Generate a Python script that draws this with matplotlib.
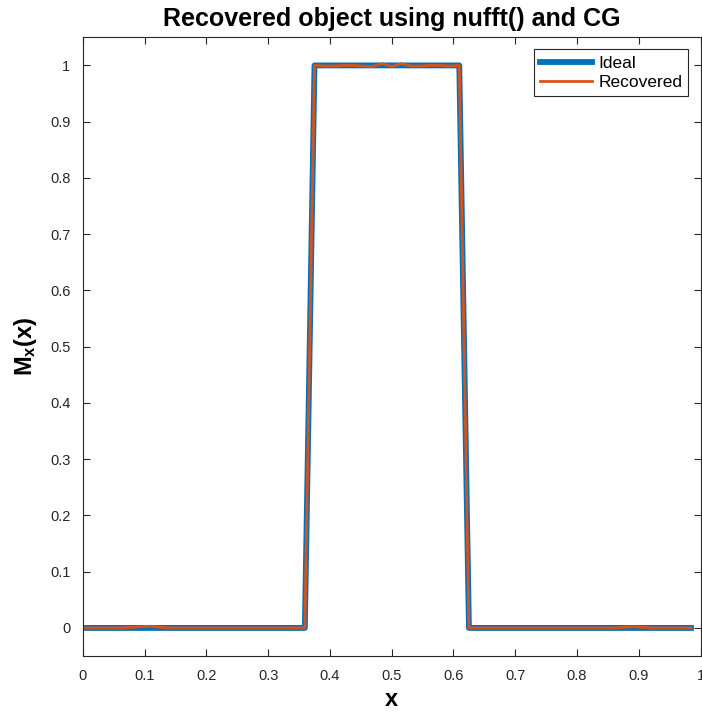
import numpy as np
import matplotlib
matplotlib.use("Agg")
import matplotlib.pyplot as plt

plt.rcParams['font.family'] = ['Liberation Sans', 'DejaVu Sans']
plt.rcParams['mathtext.fontset'] = 'custom'
plt.rcParams['mathtext.bf'] = 'Liberation Sans:bold'
plt.rcParams['mathtext.rm'] = 'Liberation Sans'

# Sample grid and object profiles
x = np.arange(64) / 64.0
ideal = [0]*24 + [1]*16 + [0]*24
recovered = [
    0.000, 0.000, 0.000, 0.000, 0.000, 0.001, 0.002, 0.003,
    0.001, 0.000, 0.000, 0.000, 0.000, 0.000, 0.000, 0.000,
    0.000, 0.000, 0.000, 0.000, 0.000, 0.000, 0.000, 0.000,
    1.000, 0.999, 0.999, 1.000, 1.000, 0.999, 0.998, 1.003,
    0.998, 1.003, 0.999, 0.999, 1.000, 1.000, 0.999, 1.000,
    0.000, 0.000, 0.000, 0.000, 0.000, 0.000, 0.000, 0.000,
    0.000, 0.000, 0.000, 0.000, 0.000, 0.000, 0.000, 0.000,
    0.001, 0.002, 0.001, 0.000, 0.000, 0.000, 0.000, 0.000,
]

fig = plt.figure(figsize=(7.02, 7.17), dpi=100)
ax = fig.add_axes([0.118, 0.085, 0.880, 0.863])

ax.plot(x, ideal, color='#0072BD', lw=4.2, label='Ideal')
ax.plot(x, recovered, color='#D95319', lw=2, label='Recovered')

ticklabels = ['0', '0.1', '0.2', '0.3', '0.4', '0.5', '0.6', '0.7', '0.8', '0.9', '1']
ax.set_xlim(0, 1)
ax.set_ylim(-0.05, 1.05)
ax.set_xticks(np.arange(0, 1.01, 0.1))
ax.set_yticks(np.arange(0, 1.01, 0.1))
ax.set_xticklabels(ticklabels)
ax.set_yticklabels(ticklabels)
ax.tick_params(direction='in', top=True, right=True, length=5, width=0.8,
               labelsize=10.5, colors='#262626', pad=9)
for s in ax.spines.values():
    s.set_color('#262626')
    s.set_linewidth(0.8)

ax.set_title('Recovered object using nufft() and CG', fontsize=18,
             fontweight='bold', pad=8)
ax.set_xlabel('x', fontsize=17, fontweight='bold', labelpad=4)
ax.set_ylabel(r'$\mathbf{M_x(x)}$', fontsize=17, labelpad=8)

leg = ax.legend(loc='upper right', fontsize=12.5, handlelength=3.0, fancybox=False,
                framealpha=1, edgecolor='#262626', borderaxespad=0.7, handletextpad=0.35,
                borderpad=0.35, labelspacing=0.25)
leg.get_frame().set_linewidth(0.8)

fig.savefig('out.png', dpi=100)
